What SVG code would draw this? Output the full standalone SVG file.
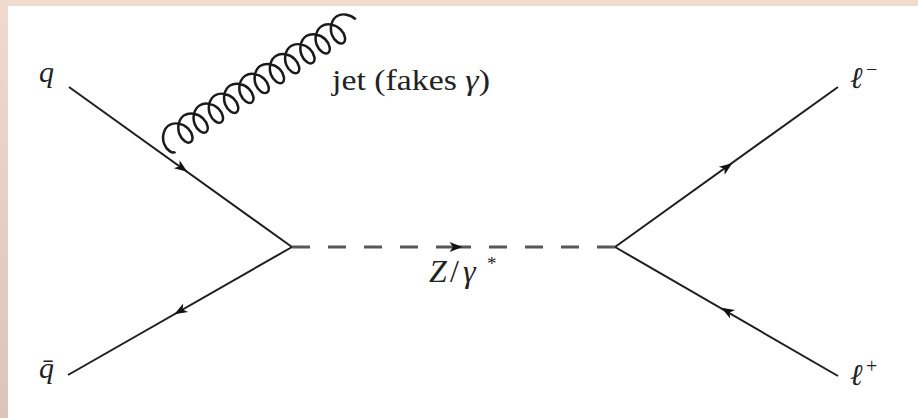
<svg xmlns="http://www.w3.org/2000/svg" xmlns:xlink="http://www.w3.org/1999/xlink" width="918" height="418" viewBox="0 0 918 418">
<style>
.fer{fill:none;stroke:#1e1e1e;stroke-width:2}
.bos{fill:none;stroke:#585858;stroke-width:3;stroke-dasharray:18 18}
.glu{fill:none;stroke:#1a1a1a;stroke-width:2.4}
.ah{fill:#111}
text{fill:#222}
</style>
<defs>
<linearGradient id="lg" x1="0" y1="0" x2="0" y2="1">
<stop offset="0" stop-color="#efdacd"/>
<stop offset="1" stop-color="#d9c5b9"/>
</linearGradient>
<path id="ah" d="M6.5,0 L-6.5,-5 L-3,0 L-6.5,5 Z"/>
</defs>
<rect x="0" y="0" width="918" height="418" fill="#ffffff"/>
<rect x="0" y="0" width="918" height="6" fill="#f0dbce"/>
<rect x="0" y="0" width="8" height="418" fill="url(#lg)"/>

<g id="connectors">
<line class="fer" x1="69" y1="87" x2="292" y2="247"/>
<line class="fer" x1="68" y1="375" x2="292" y2="247"/>
<line class="fer" x1="615" y1="247" x2="838" y2="87"/>
<line class="fer" x1="615" y1="247" x2="838" y2="376"/>
<line class="bos" x1="292" y1="247" x2="454" y2="247"/>
<line class="bos" x1="615" y1="247" x2="453" y2="247"/>
<use xlink:href="#ah" class="ah" transform="translate(182,168) rotate(35.5)"/>
<use xlink:href="#ah" class="ah" transform="translate(180,311) rotate(150.3)"/>
<use xlink:href="#ah" class="ah" transform="translate(456,247)"/>
<use xlink:href="#ah" class="ah" transform="translate(727,167) rotate(-35.7)"/>
<use xlink:href="#ah" class="ah" transform="translate(727,311) rotate(-149.95)"/>
<path id="gluon" class="glu" transform="translate(175.5,152) rotate(-33) scale(1.07,1)" d="M0,0
c-3.3,0 -6.17,-6.19 -4.75,-13 c1.42,-6.81 7.12,-13 13.25,-13 c6.13,0 11.83,6.19 13.25,13 c1.42,6.81 -1.45,13 -4.75,13
c-3.3,0 -6.17,-6.19 -4.75,-13 c1.42,-6.81 7.12,-13 13.25,-13 c6.13,0 11.83,6.19 13.25,13 c1.42,6.81 -1.45,13 -4.75,13
c-3.3,0 -6.17,-6.19 -4.75,-13 c1.42,-6.81 7.12,-13 13.25,-13 c6.13,0 11.83,6.19 13.25,13 c1.42,6.81 -1.45,13 -4.75,13
c-3.3,0 -6.17,-6.19 -4.75,-13 c1.42,-6.81 7.12,-13 13.25,-13 c6.13,0 11.83,6.19 13.25,13 c1.42,6.81 -1.45,13 -4.75,13
c-3.3,0 -6.17,-6.19 -4.75,-13 c1.42,-6.81 7.12,-13 13.25,-13 c6.13,0 11.83,6.19 13.25,13 c1.42,6.81 -1.45,13 -4.75,13
c-3.3,0 -6.17,-6.19 -4.75,-13 c1.42,-6.81 7.12,-13 13.25,-13 c6.13,0 11.83,6.19 13.25,13 c1.42,6.81 -1.45,13 -4.75,13
c-3.3,0 -6.17,-6.19 -4.75,-13 c1.42,-6.81 7.12,-13 13.25,-13 c6.13,0 11.83,6.19 13.25,13 c1.42,6.81 -1.45,13 -4.75,13
c-3.3,0 -6.17,-6.19 -4.75,-13 c1.42,-6.81 7.12,-13 13.25,-13 c6.13,0 11.83,6.19 13.25,13 c1.42,6.81 -1.45,13 -4.75,13
c-3.3,0 -6.17,-6.19 -4.75,-13 c1.42,-6.81 7.12,-13 13.25,-13 c6.13,0 11.83,6.19 13.25,13 c1.42,6.81 -1.45,13 -4.75,13
c-3.3,0 -6.17,-6.19 -4.75,-13 c1.42,-6.81 7.12,-13 13.25,-13 c6.13,0 11.83,6.19 13.25,13 c1.42,6.81 -1.45,13 -4.75,13
c-3.3,0 -6.17,-6.19 -4.75,-13 c1.42,-6.81 7.12,-13 13.25,-13 c6.13,0 11.83,6.19 13.25,13 c1.42,6.81 -1.45,13 -4.75,13
c-3.3,0 -6.17,-6.19 -4.75,-13 c1.42,-6.81 7.12,-13 13.25,-13 c6.13,0 11.83,6.19 13.25,13"/>
</g>

<g id="q"><text x="39" y="82" style="font-family:'Liberation Serif','DejaVu Serif',serif;font-style:italic;font-size:30px">q</text></g>
<g id="qbar"><text x="39" y="378" style="font-family:'Liberation Serif','DejaVu Serif',serif;font-style:italic;font-size:30px">q̄</text></g>
<g id="lminus"><text x="850" y="88" style="font-family:'Liberation Serif','DejaVu Serif',serif;font-style:italic;font-size:30px">ℓ<tspan x="866" y="76" style="font-style:normal;font-size:20px">−</tspan></text></g>
<g id="lplus"><text x="850" y="385" style="font-family:'Liberation Serif','DejaVu Serif',serif;font-style:italic;font-size:30px">ℓ<tspan x="866" y="373" style="font-style:normal;font-size:20px">+</tspan></text></g>
<g id="jet"><text x="332" y="90" textLength="158" lengthAdjust="spacingAndGlyphs" style="font-family:'Liberation Serif','DejaVu Serif',serif;font-size:29px">jet (fakes <tspan style="font-style:italic">γ</tspan>)</text></g>
<g id="zgamma"><text x="429" y="282" style="font-family:'Liberation Serif','DejaVu Serif',serif;font-style:italic;font-size:32px">Z<tspan x="450" style="font-style:normal">/</tspan><tspan x="463">γ</tspan><tspan x="487" y="270" style="font-style:normal;font-size:19px">*</tspan></text></g>
</svg>
